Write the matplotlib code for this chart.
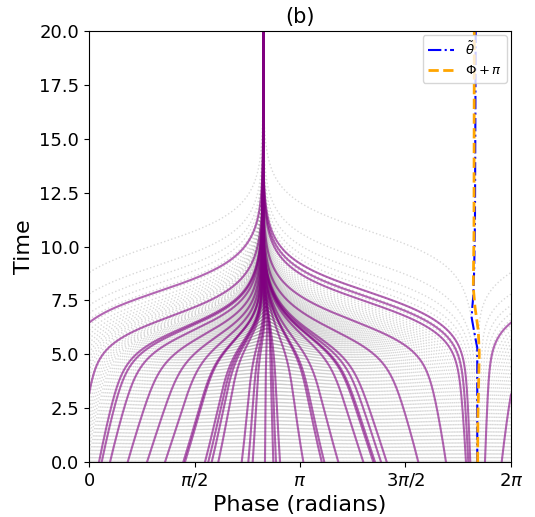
import numpy as np
import matplotlib
matplotlib.use("Agg")
import matplotlib.pyplot as plt

# ---- data ----
# initial phases (t=0) of highlighted (purple) oscillators
purple_start = [0.149, 0.189, 0.313, 0.576, 0.864, 1.132, 1.404, 1.429, 1.727, 1.776,
                1.827, 1.925, 2.274, 2.372, 2.437, 2.620, 2.744, 2.784, 2.844, 3.191,
                3.465, 3.503, 3.712, 4.084, 4.233, 4.258, 4.348, 4.433, 4.903, 5.315,
                5.613, 5.647, 5.677, 5.896, 6.145]
# number of background (gray) oscillators, evenly spread over the circle
n_background = 300

# theta-tilde curve (time, phase)
theta_t = [0.0, 5.3, 6.1, 6.7, 7.1, 7.7, 8.9, 11.2, 20.0]
theta_p = [5.781, 5.781, 5.732, 5.698, 5.705, 5.722, 5.735, 5.747, 5.758]
# Phi + pi curve (time, phase)
phi_t = [0.0, 2.0, 5.06, 6.1, 7.2, 8.1, 10.6, 20.0]
phi_p = [5.787, 5.790, 5.811, 5.796, 5.747, 5.722, 5.732, 5.737]

# coupling strength schedule parameters
k_base, k_gain, k_t0, k_w = 0.105, 0.85, 5.45, 0.6

xtick_vals = [0, np.pi / 2, np.pi, 3 * np.pi / 2, 2 * np.pi]
xtick_labels = ['0', r'$\pi/2$', r'$\pi$', r'$3\pi/2$', r'$2\pi$']

# ---- dynamics ----
t = np.linspace(0, 20, 2001)
dt = t[1] - t[0]
Phi = np.interp(t, phi_t, phi_p) - np.pi
K = k_base + k_gain / (1 + np.exp(-(t - k_t0) / k_w))


def integrate(th0):
    th = np.array(th0, dtype=float)
    out = np.empty((len(t), th.size))
    out[0] = th
    for i in range(1, len(t)):
        th = th + dt * K[i - 1] * np.sin(Phi[i - 1] - th)
        out[i] = th
    return out


def wrap_with_breaks(tt, th):
    w = np.mod(th, 2 * np.pi)
    jumps = np.where(np.abs(np.diff(w)) > np.pi)[0]
    w = np.insert(w, jumps + 1, np.nan)
    tt2 = np.insert(tt, jumps + 1, np.nan)
    return w, tt2


bg = integrate(np.linspace(0, 2 * np.pi, n_background, endpoint=False))
fg = integrate(purple_start)

fig = plt.figure(figsize=(5.35, 5.17), dpi=100)
ax = fig.add_axes([0.1664, 0.1064, 0.7887, 0.8336])

for j in range(bg.shape[1]):
    x, y = wrap_with_breaks(t, bg[:, j])
    ax.plot(x, y, ':', color='gray', alpha=0.3, lw=1)
for j in range(fg.shape[1]):
    x, y = wrap_with_breaks(t, fg[:, j])
    ax.plot(x, y, '-', color='purple', alpha=0.6, lw=1.5)

ax.plot(theta_p, theta_t, '-.', color='blue', lw=1.5, label=r'$\tilde{\theta}$')
ax.plot(phi_p, phi_t, '--', color='orange', lw=2, label=r'$\Phi+\pi$')

ax.set_xlim(0, 2 * np.pi)
ax.set_ylim(0, 20)
ax.set_xticks(xtick_vals)
ax.set_xticklabels(xtick_labels)
ax.set_yticks(np.arange(0, 20.1, 2.5))
ax.tick_params(labelsize=13)
ax.set_xlabel('Phase (radians)', fontsize=16)
ax.set_ylabel('Time', fontsize=16)
ax.set_title('(b)', fontsize=15)
ax.legend(loc='upper right', fontsize=9.5, borderaxespad=0.3)

fig.savefig('out.png', dpi=100)
